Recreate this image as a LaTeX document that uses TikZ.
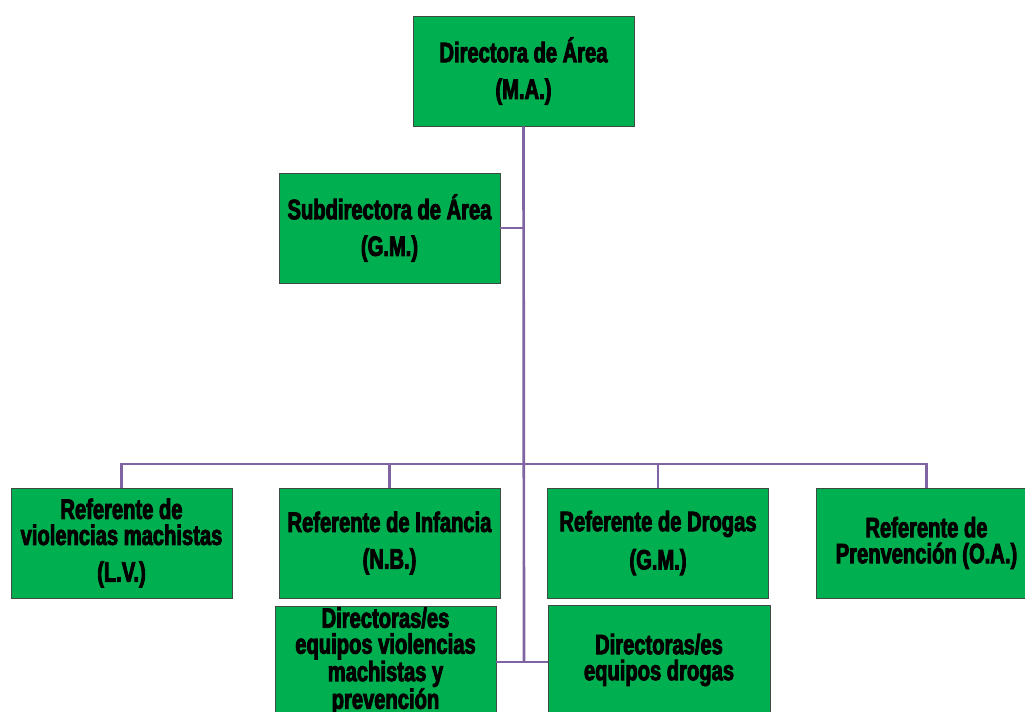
\documentclass[tikz,border=0pt]{standalone}
\usepackage{fontspec}
\newfontfamily\boxfont{Liberation Sans}[UprightFont={* Bold}, FakeStretch=0.72, FakeBold=3]
\definecolor{boxgreen}{HTML}{00B050}
\definecolor{boxedge}{HTML}{3F4A40}
\definecolor{linkpurple}{HTML}{8064A2}
\tikzset{
  orgbox/.style={draw=boxedge, line width=0.7pt, fill=boxgreen, text=black,
    minimum width=165.75pt, minimum height=82.5pt, inner sep=0pt,
    align=center, font=\boxfont\fontsize{21}{19.5}\selectfont},
  link/.style={draw=linkpurple, line width=2pt}
}
\begin{document}
\begin{tikzpicture}[x=0.75pt, y=-0.75pt]
  \useasboundingbox (0,0) rectangle (1025,711);
  \clip (0,0) rectangle (1025,711);

  % management
  \node[orgbox] (dir) at (523.5,71) {Directora de Área\\[8pt](M.A.)};
  \node[orgbox] (sub) at (389.5,228) {Subdirectora de Área\\[8pt](G.M.)};

  % referents
  \node[orgbox] (r1) at (121.5,543) {Referente de\\violencias machistas\\[8pt](L.V.)};
  \node[orgbox] (r2) at (389.5,543) {Referente de Infancia\\[8pt](N.B.)};
  \node[orgbox] (r3) at (658,543) {Referente de Drogas\\[8pt](G.M.)};
  \node[orgbox] (r4) at (926.5,543) {Referente de\\Prenvención (O.A.)};

  % team directors
  \node[orgbox] (d1) at (385.5,661) {Directoras/es\\equipos violencias\\machistas y\\prevención};
  \node[orgbox, minimum width=166.5pt] (d2) at (659,660) {Directoras/es\\equipos drogas};

  % connectors
  \coordinate (bus) at (524,464);
  \coordinate (foot) at (524,662);
  \draw[link] (dir.south) -- (foot);
  \draw[link] (sub.east) -- (sub.east -| dir.south);
  \draw[link] (r1.north) |- (bus) -| (r4.north);
  \draw[link] (r2.north) -- (r2.north |- bus);
  \draw[link] (r3.north) -- (r3.north |- bus);
  \draw[link] (d1.east |- foot) -- (d2.west |- foot);
\end{tikzpicture}
\end{document}
